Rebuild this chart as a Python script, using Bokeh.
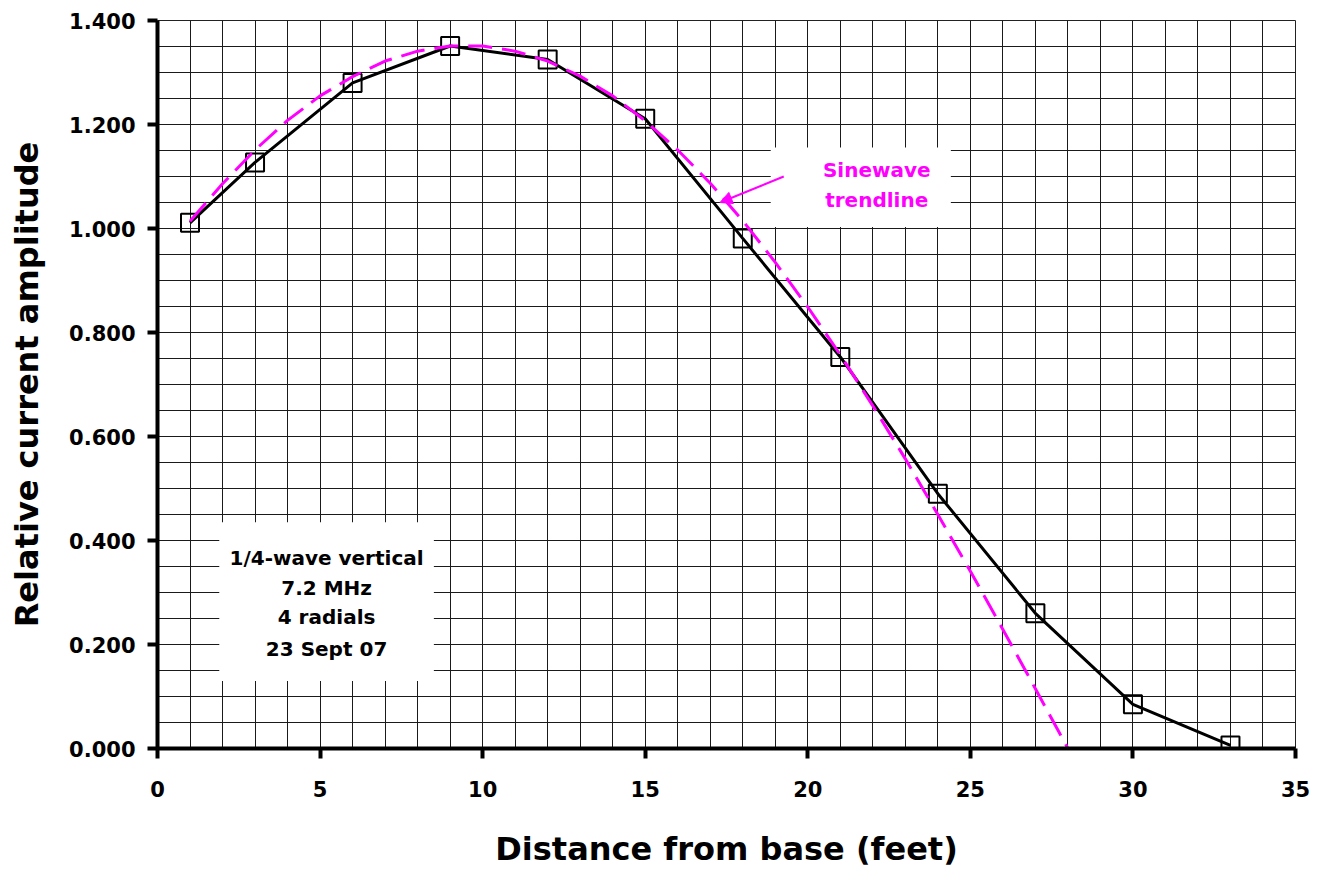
from bokeh.plotting import figure
from bokeh.models import (FixedTicker, NumeralTickFormatter, Range1d, Arrow, NormalHead)
from bokeh.core.properties import value
from bokeh.embed import file_html
from bokeh.resources import INLINE

# Measured data
distance_ft = [1, 3, 6, 9, 12, 15, 18, 21, 24, 27, 30, 33]
rel_amplitude = [1.011, 1.127, 1.280, 1.351, 1.325, 1.211, 0.981, 0.753, 0.490, 0.260, 0.085, 0.006]

# Sinewave trendline
trend_x = [1, 2, 3, 4, 5, 6, 7, 8, 9, 10, 11, 12, 13, 14, 15, 16, 17, 18, 19, 20,
           21, 22, 23, 24, 25, 26, 27, 28]
trend_y = [1.014, 1.086, 1.151, 1.208, 1.255, 1.292, 1.322, 1.341, 1.351, 1.351,
           1.341, 1.322, 1.293, 1.255, 1.207, 1.151, 1.087, 1.015, 0.935, 0.849,
           0.757, 0.659, 0.557, 0.450, 0.341, 0.229, 0.115, 0.0]

x_ticks = [0, 5, 10, 15, 20, 25, 30, 35]
y_ticks = [0.0, 0.2, 0.4, 0.6, 0.8, 1.0, 1.2, 1.4]
info_lines = ["1/4-wave vertical", "7.2 MHz", "4 radials", "23 Sept 07"]
trend_label = ["Sinewave", "trendline"]

FONT = "DejaVu Sans"

p = figure(width=1312, height=872, output_backend="svg", toolbar_location=None,
           x_range=Range1d(0, 35), y_range=Range1d(0, 1.4),
           min_border_left=157, min_border_top=20, min_border_right=17, min_border_bottom=124)
p.background_fill_color = "white"
p.border_fill_color = "white"
p.outline_line_color = "#222222"
p.outline_line_width = 1

# grids
p.xgrid.ticker = FixedTicker(ticks=list(range(0, 36)))
p.ygrid.ticker = FixedTicker(ticks=[round(i * 0.05, 2) for i in range(0, 29)])
for g in (p.xgrid, p.ygrid):
    g.grid_line_color = "#1a1a1a"
    g.grid_line_width = 1
    g.grid_line_alpha = 1.0

# axes
p.xaxis.ticker = FixedTicker(ticks=x_ticks)
p.yaxis.ticker = FixedTicker(ticks=y_ticks)
p.yaxis.formatter = NumeralTickFormatter(format="0.000")
for ax in (p.xaxis, p.yaxis):
    ax.axis_line_width = 4
    ax.axis_line_color = "black"
    ax.major_tick_line_width = 4
    ax.major_tick_line_color = "black"
    ax.major_tick_out = 10
    ax.major_tick_in = 0
    ax.minor_tick_line_color = None
    ax.major_label_text_font = FONT
    ax.major_label_text_font_style = "bold"
    ax.major_label_text_font_size = "21px"
    ax.major_label_text_color = "black"
    ax.axis_label_text_font = FONT
    ax.axis_label_text_font_style = "bold"
    ax.axis_label_text_font_size = "32px"
    ax.axis_label_text_color = "black"
p.xaxis.major_label_standoff = 22
p.yaxis.major_label_standoff = 12
p.xaxis.axis_label = "Distance from base (feet)"
p.yaxis.axis_label = "Relative current amplitude"
p.xaxis.axis_label_standoff = 30
p.yaxis.axis_label_standoff = 20

# white boxes
p.quad(left=[1.9], right=[8.5], bottom=[0.13], top=[0.435], fill_color="white", line_color=None)
p.quad(left=[18.86], right=[24.4], bottom=[1.003], top=[1.156], fill_color="white", line_color=None)

# data
p.line(distance_ft, rel_amplitude, line_color="black", line_width=3)
p.scatter(distance_ft, rel_amplitude, marker="square", size=18, fill_color=None,
          line_color="black", line_width=2)
p.line(trend_x, trend_y, line_color="#FF00FF", line_width=3, line_dash="24 10")

# info text
p.text(x=[5.2] * 4, y=[0.366, 0.308, 0.252, 0.192], text=info_lines,
       text_font=value(FONT), text_font_style="bold", text_font_size="20px",
       text_color="black", text_align="center", text_baseline="middle")

p.text(x=[22.12, 22.12], y=[1.112, 1.054], text=trend_label,
       text_font=value(FONT), text_font_style="bold", text_font_size="20px",
       text_color="#FF00FF", text_align="center", text_baseline="middle")

p.add_layout(Arrow(x_start=19.26, y_start=1.10, x_end=17.3, y_end=1.05,
                   line_color="#FF00FF", line_width=2,
                   end=NormalHead(size=12, fill_color="#FF00FF", line_color="#FF00FF")))

open("out.html", "w").write(file_html(p, INLINE))
